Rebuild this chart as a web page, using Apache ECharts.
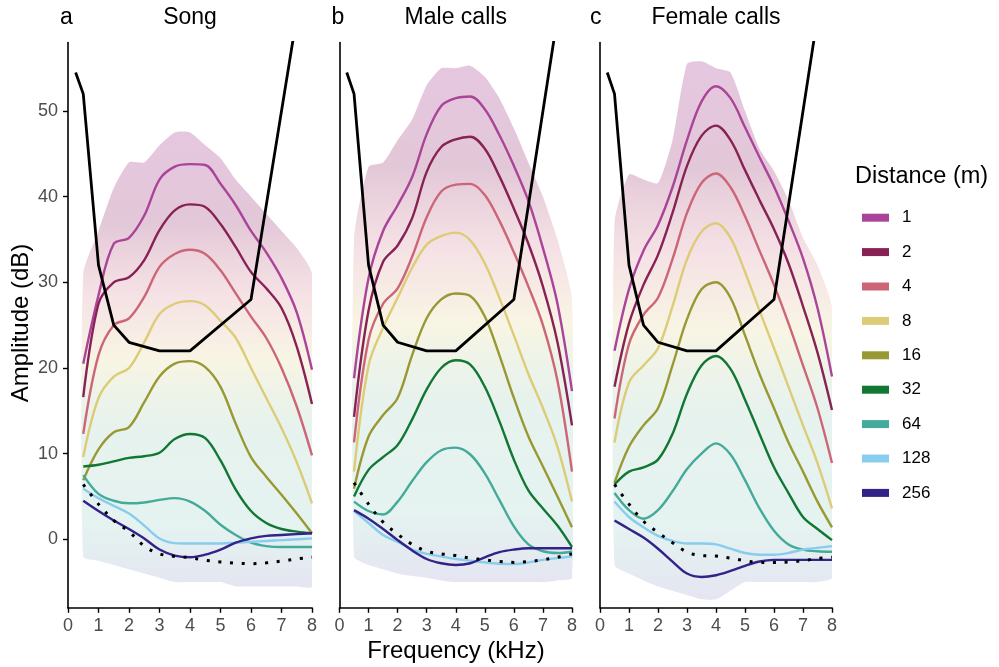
<!DOCTYPE html>
<html><head><meta charset="utf-8">
<script src="https://cdn.jsdelivr.net/npm/echarts@6/dist/echarts.min.js"></script>
<style>html,body{margin:0;padding:0;background:#fff}#c{width:999px;height:667px}</style>
</head><body><div id="c"></div>
<script>
// ---------- data ----------
const freqs = [0.5,1,1.5,2,2.5,3,3.5,4,4.5,5,5.5,6,6.5,7,7.5,8];
const distances = ['1','2','4','8','16','32','64','128','256'];
const distColors = ['#AA4499','#882255','#CC6677','#DDCC77','#999933','#117733','#44AA99','#88CCEE','#332288'];
const panelTitles = ['Song','Male calls','Female calls'];
const panelLetters = ['a','b','c'];
const xTicks = [0,1,2,3,4,5,6,7,8];
const yTicks = [0,10,20,30,40,50];
const thresholdFreq = [0.25,0.5,1,1.5,2,3,4,6,8];
const thresholdDb = [54.5,52,32,25,23,22,22,28,72];

const song1   = [20.5,28.5,34.5,35.2,37.8,42.0,43.5,43.8,43.7,41.5,39.0,36.0,33.5,30.5,26.5,19.8];
const song2   = [16.6,27.5,30.0,30.6,32.6,36.1,38.4,39.1,38.8,36.8,34.1,31.2,29.3,27.0,22.5,15.8];
const song4   = [12.3,21.5,25.0,25.8,28.3,31.8,33.3,33.8,33.3,31.4,28.7,26.0,23.5,20.0,15.5,9.8];
const song8   = [9.6,16.5,19.0,20.0,23.0,26.3,27.5,27.8,27.3,25.5,23.5,20.0,16.5,13.0,9.0,4.2];
const song16  = [6.9,10.5,12.5,13.1,16.0,19.0,20.5,20.8,20.1,17.8,13.5,9.6,7.3,5.2,3.0,0.7];
const song32  = [8.5,8.7,9.1,9.5,9.7,10.1,11.7,12.3,11.8,9.2,5.8,3.3,1.9,1.2,0.9,0.7];
const song64  = [7.5,5.3,4.5,4.2,4.3,4.6,4.8,4.4,3.3,1.7,0.5,-0.4,-0.8,-0.9,-0.9,-0.9];
const song128 = [5.9,4.8,3.9,3.0,1.6,0.1,-0.45,-0.5,-0.5,-0.5,-0.4,-0.3,-0.2,-0.1,0,0.1];
const song256 = [4.5,3.3,2.2,1.2,0.1,-1.2,-1.9,-2.1,-1.8,-1.2,-0.4,0.1,0.4,0.5,0.6,0.7];
const songNoise = [6.4,4.1,2.2,0.9,-0.8,-1.7,-2.0,-2.15,-2.45,-2.65,-2.8,-2.85,-2.75,-2.55,-2.3,-2.1];
const songTop    = [31,36,41,44,44,46,47.5,47.5,46,44.5,42,40,38,36,34,31];
const songBottom = [-2,-2.5,-3,-3.5,-4,-4.5,-5,-5,-5,-5,-5.5,-5.5,-5.5,-5.5,-5.5,-5.5];

const male1   = [18.8,30.5,36.0,39.0,42.3,47.3,50.6,51.5,51.7,50.2,47.2,43.6,39.5,34.0,27.5,17.3];
const male2   = [14.3,26.7,32.4,34.3,37.5,42.9,45.8,46.7,47.0,45.6,42.4,38.6,34.5,29.5,23.0,13.3];
const male4   = [11.3,23.3,27.5,29.3,33.0,37.6,40.6,41.4,41.5,40.2,37.2,33.5,29.5,25.0,18.5,7.9];
const male8   = [7.9,20.3,24.7,28.2,31.7,34.4,35.4,35.8,34.9,32.2,28.2,23.8,19.3,15.3,10.8,4.4];
const male16  = [5.9,12.0,14.5,16.5,21.5,25.8,28.0,28.7,28.4,26.0,21.5,16.5,12.0,8.5,5.0,1.4];
const male32  = [5.0,8.1,9.6,11.0,14.0,17.5,20.0,20.9,20.4,17.8,13.8,9.3,5.7,3.6,1.6,-0.9];
const male64  = [4.4,3.3,2.9,4.4,6.8,9.0,10.4,10.7,9.9,7.7,4.6,1.5,-0.6,-1.4,-1.6,-1.45];
const male128 = [3.3,1.9,0.5,-0.3,-1.2,-1.7,-2.0,-2.3,-2.5,-2.7,-2.85,-2.9,-2.7,-2.4,-2.2,-2.0];
const male256 = [3.4,2.4,1.2,-0.1,-1.3,-2.3,-2.8,-3.0,-2.8,-2.1,-1.5,-1.2,-1.05,-1.05,-1.05,-1.05];
const maleNoise = [6.6,4.1,2.0,0.6,-0.6,-1.4,-1.7,-1.9,-2.2,-2.4,-2.6,-2.7,-2.6,-2.4,-2.1,-1.7];
const maleTop    = [35,43.5,44,46.6,49,53,55,55,55.3,54,51.5,48,44,40,35,28];
const maleBottom = [-2,-3,-3.5,-4,-4.3,-4.5,-4.8,-5,-5,-5,-5,-5,-5,-5,-4.8,-4.5];

const female1   = [22.0,29.2,33.7,36.7,41.1,46.6,51.1,52.9,51.5,48.1,44.6,41.2,37.2,32.8,27.0,19.0];
const female2   = [17.8,25.2,29.7,33.2,38.1,43.6,47.1,48.3,46.6,43.1,39.6,36.2,32.2,27.2,21.8,15.1];
const female4   = [14.1,22.8,26.2,28.2,32.7,38.1,41.6,42.7,41.1,37.7,33.7,29.7,25.2,20.3,15.3,8.9];
const female8   = [11.3,18.3,20.3,22.3,27.2,32.7,35.9,36.9,35.2,31.2,26.7,22.3,17.8,13.3,8.9,3.6];
const female16  = [6.6,10.8,13.3,15.3,20.3,25.7,29.2,30.0,28.2,23.8,19.3,15.3,11.3,7.9,4.4,1.4];
const female32  = [6.4,7.9,8.4,9.3,12.3,17.0,20.3,21.4,19.9,16.3,12.3,8.4,5.4,2.6,1.2,-0.1];
const female64  = [5.4,3.4,2.4,3.4,5.6,8.2,10.0,11.2,9.9,6.9,3.6,1.0,-0.6,-1.2,-1.4,-1.45];
const female128 = [4.4,2.6,1.4,0.4,-0.2,-0.5,-0.5,-0.6,-1.1,-1.6,-1.8,-1.8,-1.6,-1.2,-1.0,-0.8];
const female256 = [2.2,1.2,0.2,-1.1,-2.6,-4.0,-4.4,-4.2,-3.7,-3.1,-2.6,-2.4,-2.4,-2.4,-2.4,-2.4];
const femaleNoise = [6.4,4.1,2.1,0.8,-0.4,-1.5,-1.9,-1.95,-2.2,-2.5,-2.7,-2.7,-2.65,-2.5,-2.25,-2.1];
const femaleTop    = [37,42.6,42,41.6,46.6,55.5,55.8,55,54.5,50,45.6,43,39.6,35.2,32,27];
const femaleBottom = [-3,-4,-4.8,-5.5,-6,-6.5,-7,-7,-6,-5,-5,-5,-5,-5,-5,-4.5];

const panelCurves = [
  [song1,song2,song4,song8,song16,song32,song64,song128,song256],
  [male1,male2,male4,male8,male16,male32,male64,male128,male256],
  [female1,female2,female4,female8,female16,female32,female64,female128,female256]
];
const panelNoise = [songNoise, maleNoise, femaleNoise];
const panelTop = [songTop, maleTop, femaleTop];
const panelBottom = [songBottom, maleBottom, femaleBottom];

// ---------- layout ----------
const FONT = '"Liberation Sans", Arial, sans-serif';
const grids = [
  {left:68, top:42.5, width:244, height:565.3},
  {left:339.5, top:42.5, width:232.5, height:565.3},
  {left:600, top:42.5, width:232, height:565.3}
];

const chart = echarts.init(document.getElementById('c'), null, {renderer:'canvas'});
const xAxes = [], yAxes = [], series = [];

function cloudGradient(){
  return new echarts.graphic.LinearGradient(0,0,0,1,[
    {offset:0, color:'rgba(170,68,153,0.30)'},
    {offset:0.2, color:'rgba(150,50,110,0.27)'},
    {offset:0.36, color:'rgba(204,102,119,0.19)'},
    {offset:0.5, color:'rgba(221,204,119,0.20)'},
    {offset:0.66, color:'rgba(90,170,140,0.15)'},
    {offset:0.86, color:'rgba(68,170,153,0.14)'},
    {offset:1, color:'rgba(110,110,180,0.18)'}
  ]);
}

grids.forEach((g,i)=>{
  xAxes.push({
    type:'value', gridIndex:i, min:0, max:8, interval:1,
    axisLine:{show:true, onZero:false, lineStyle:{color:'#000', width:1.6}},
    axisTick:{show:true, length:5, lineStyle:{color:'#000', width:1.4}},
    axisLabel:{color:'#4d4d4d', fontSize:18, fontFamily:FONT, margin:9},
    splitLine:{show:false}
  });
  yAxes.push({
    type:'value', gridIndex:i, min:-8, max:58,
    axisLine:{show:true, onZero:false, lineStyle:{color:'#000', width:1.6}},
    axisTick:{show:i===0, length:5, customValues:yTicks, lineStyle:{color:'#000', width:1.4}},
    axisLabel:{show:i===0, customValues:yTicks, color:'#4d4d4d', fontSize:18, fontFamily:FONT, margin:10},
    splitLine:{show:false}
  });
  // point-cloud envelope, drawn as one polygon
  const top = panelTop[i], bot = panelBottom[i];
  series.push({
    type:'custom', xAxisIndex:i, yAxisIndex:i, silent:true, z:1, clip:true,
    data: freqs.map((f,j)=>[f, top[j], bot[j]]),
    encode:{x:0, y:[1,2]},
    renderItem:function(params, api){
      if (params.dataIndex !== 0) return null;
      const pts = [];
      for (let j=0;j<freqs.length;j++) pts.push(api.coord([freqs[j], top[j]]));
      for (let j=freqs.length-1;j>=0;j--) pts.push(api.coord([freqs[j], bot[j]]));
      return {type:'polygon', shape:{points:pts, smooth:0.2}, style:{fill:cloudGradient()}};
    }
  });
  panelCurves[i].forEach((arr,k)=>{
    series.push({
      name:distances[k], type:'line', xAxisIndex:i, yAxisIndex:i,
      data: freqs.map((f,j)=>[f, arr[j]]), smooth:0.35, symbol:'none',
      itemStyle:{color:distColors[k]}, lineStyle:{color:distColors[k], width:2.4}, z:3
    });
  });
  series.push({
    type:'line', xAxisIndex:i, yAxisIndex:i, data: freqs.map((f,j)=>[f, panelNoise[i][j]]),
    smooth:0.35, symbol:'none', silent:true,
    lineStyle:{color:'#000', width:3, type:[3,8.7], cap:'butt'}, z:4
  });
  series.push({
    type:'line', xAxisIndex:i, yAxisIndex:i, data: thresholdFreq.map((f,j)=>[f, thresholdDb[j]]),
    symbol:'none', silent:true, clip:true,
    lineStyle:{color:'#000', width:2.8}, z:5
  });
});

const graphics = [];
const titleCenters = grids.map(g=>g.left + g.width/2);
const letterX = [60, 331.5, 590];
for (let i=0;i<3;i++){
  graphics.push({type:'text', x:letterX[i], y:18, style:{text:panelLetters[i], font:'23px '+FONT, fill:'#000', align:'left', verticalAlign:'middle'}});
  graphics.push({type:'text', x:titleCenters[i], y:18, style:{text:panelTitles[i], font:'23px '+FONT, fill:'#000', align:'center', verticalAlign:'middle'}});
}
graphics.push({type:'text', x:21, y:323, rotation:Math.PI/2, style:{text:'Amplitude (dB)', font:'24px '+FONT, fill:'#000', align:'center', verticalAlign:'middle'}});
graphics.push({type:'text', x:456, y:651, style:{text:'Frequency (kHz)', font:'24px '+FONT, fill:'#000', align:'center', verticalAlign:'middle'}});
graphics.push({type:'text', x:855, y:177, style:{text:'Distance (m)', font:'23.5px '+FONT, fill:'#000', align:'left', verticalAlign:'middle'}});

chart.setOption({
  animation:false,
  backgroundColor:'#fff',
  grid: grids,
  xAxis: xAxes,
  yAxis: yAxes,
  legend:{
    data: distances, orient:'vertical', left:857, top:202.7, icon:'rect',
    itemWidth:27, itemHeight:8, itemGap:14.4, selectedMode:false,
    textStyle:{fontSize:17, fontFamily:FONT, color:'#000', lineHeight:20, padding:[0,0,0,8]}
  },
  graphic: graphics,
  series: series
});
</script>
</body></html>
